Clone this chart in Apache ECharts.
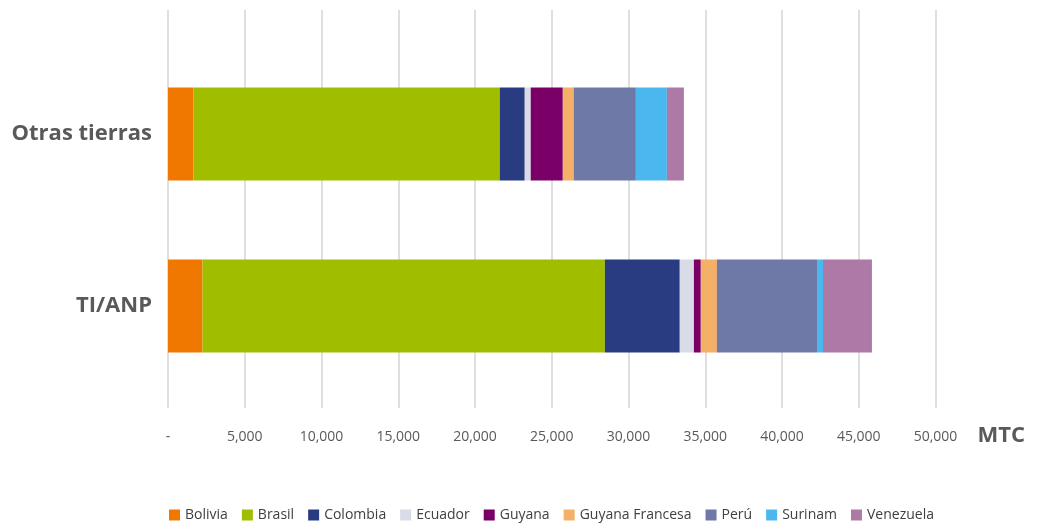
<!DOCTYPE html>
<html>
<head>
<meta charset="utf-8">
<script src="https://cdn.jsdelivr.net/npm/echarts@6/dist/echarts.min.js"></script>
<style>
  html, body { margin: 0; padding: 0; background: #fff; }
  #main { width: 1038px; height: 528px; }
</style>
</head>
<body>
<div id="main"></div>
<script>
// categorias (de arriba hacia abajo)
var categorias = ['Otras tierras', 'TI/ANP'];
var paises = ['Bolivia', 'Brasil', 'Colombia', 'Ecuador', 'Guyana', 'Guyana Francesa', 'Perú', 'Surinam', 'Venezuela'];
var colores = ['#f07800', '#a0bd00', '#293c82', '#d9dce6', '#7a0068', '#f4b066', '#6e79a8', '#4ab8ee', '#ad7aa8'];

// valores MTC por pais: [Otras tierras, TI/ANP]
var bolivia = [1660, 2250];
var brasil = [19950, 26210];
var colombia = [1630, 4880];
var ecuador = [390, 920];
var guyana = [2090, 450];
var guyanaFrancesa = [710, 1050];
var peru = [4050, 6520];
var surinam = [2020, 390];
var venezuela = [1110, 3190];

var valores = [bolivia, brasil, colombia, ecuador, guyana, guyanaFrancesa, peru, surinam, venezuela];

var ejeMax = 50000;
var ejeIntervalo = 5000;

var myChart = echarts.init(document.getElementById('main'));

var series = [];
for (var i = 0; i < paises.length; i++) {
	series.push({
		name: paises[i],
		type: 'bar',
		stack: 'total',
		xAxisIndex: 0,
		yAxisIndex: 0,
		barWidth: 93,
		itemStyle: { color: colores[i] },
		data: valores[i]
	});
}

var option = {
	backgroundColor: '#fff',
	textStyle: { fontFamily: 'Open Sans' },
	legend: {
		data: paises,
		left: 164,
		bottom: 1,
		itemWidth: 11,
		itemHeight: 11,
		itemGap: 14,
		icon: 'rect',
		textStyle: { color: '#404040', fontSize: 14, fontFamily: 'Open Sans' }
	},
	grid: [
		// barras
		{ left: 168, right: 102.5, top: 48, height: 344 },
		// eje y lineas de division
		{ left: 168, right: 102.5, top: 10, bottom: 120 }
	],
	xAxis: [
		{
			gridIndex: 0,
			type: 'value',
			min: 0,
			max: ejeMax,
			interval: ejeIntervalo,
			show: false
		},
		{
			gridIndex: 1,
			type: 'value',
			min: 0,
			max: ejeMax,
			interval: ejeIntervalo,
			name: 'MTC',
			nameLocation: 'end',
			nameGap: 42,
			nameTextStyle: {
				color: '#595959',
				fontSize: 22,
				fontWeight: 'bold',
				verticalAlign: 'top',
				padding: [17, 0, 0, 0]
			},
			axisLine: { show: false },
			axisTick: { show: false },
			axisLabel: {
				margin: 22,
				color: '#595959',
				fontSize: 14,
				formatter: function (v) {
					if (v === 0) return '-';
					return v.toString().replace(/\B(?=(\d{3})+(?!\d))/g, ',');
				}
			},
			splitLine: { show: true, lineStyle: { color: '#d4d4d4', width: 1.5 } }
		}
	],
	yAxis: [
		{
			gridIndex: 0,
			type: 'category',
			inverse: true,
			data: categorias,
			axisLine: { show: false },
			axisTick: { show: false },
			axisLabel: {
				margin: 16,
				color: '#595959',
				fontSize: 22,
				fontWeight: 'bold'
			}
		},
		{
			gridIndex: 1,
			type: 'value',
			show: false
		}
	],
	series: series
};

myChart.setOption(option);
</script>
</body>
</html>
